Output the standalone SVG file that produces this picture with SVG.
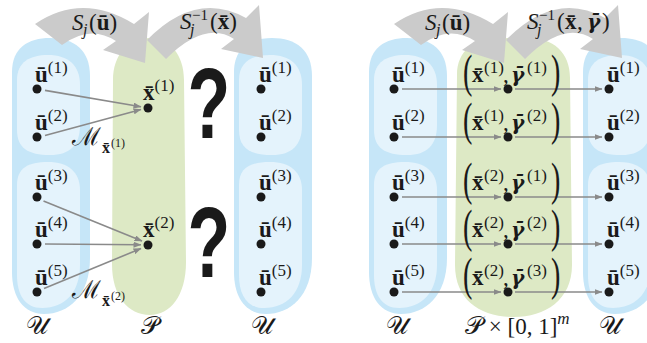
<svg xmlns="http://www.w3.org/2000/svg" width="647" height="343" viewBox="0 0 647 343">
<style>
.m{font-family:"Liberation Serif","DejaVu Serif",serif;font-size:23px;fill:#1a1a1a}
.b{font-weight:bold}
.i{font-style:italic}
.g{font-family:"DejaVu Serif",serif;font-weight:bold;font-style:italic;font-size:20px}
.sup{font-size:17px}
.sub{font-size:16px}
.sm{font-size:15px}
.cal{font-family:"DejaVu Serif","Noto Sans",serif;fill:#1a1a1a}
.outer{fill:#c6e6f8}
.inner{fill:#e4f3fc}
.green{fill:#dde9c5}
.big{fill:#cbcbcb}
.dot{fill:#1a1a1a}
.ln{stroke:#8a8a8a;stroke-width:1.6;fill:none;marker-end:url(#ah)}
.q{font-family:"Liberation Sans","DejaVu Sans",sans-serif;font-weight:bold;font-size:100px;fill:#1a1a1a}
.bp{font-family:"Liberation Serif","DejaVu Serif",serif;font-size:47px;fill:#1a1a1a}
</style>
<defs>
<marker id="ah" markerWidth="8" markerHeight="6" refX="7.5" refY="3" orient="auto" markerUnits="userSpaceOnUse"><path d="M0,0 L8,3 L0,6 z" fill="#8a8a8a"/></marker>
<g id="bcol">
<path class="outer" d="M12,72 C12,48 28,38 50,38 C74,38 90,50 90,76 L90,258 C90,296 68,314 44,314 C24,314 12,298 12,272 Z"/>
<path class="inner" d="M17,80 C17,62 30,55 48,55 C68,55 80,65 80,85 L80,125 C80,145 70,155 50,155 C28,155 17,148 17,130 Z"/>
<path class="inner" d="M17,185 C17,168 28,162 48,162 C68,162 80,172 80,190 L80,265 C80,292 65,308 42,308 C25,308 17,295 17,275 Z"/>
</g>
<path id="arr1" d="M35,24 Q82,-8 134,24 L149,12 L145,63 L103,50 L116,41 Q90,24 62,45 Z"/>
<path id="arr2" d="M147,40 Q196,-10 246,18 L259,5 L263,58 L221,49 L234,39 Q205,20 166,59 Z"/>
</defs>

<!-- columns -->
<g id="col-U-left"><use href="#bcol"/></g>
<g id="col-P"><path class="green" d="M113,80 C113,55 128,38 149,38 C170,38 184,55 184,80 L186,262 C186,296 170,315 150,315 C128,315 112,296 112,264 Z"/></g>
<g id="col-U-mid"><use href="#bcol" transform="translate(222,0)"/></g>
<g id="col-U-r1"><use href="#bcol" transform="translate(357,0)"/></g>
<g id="col-PxI"><path class="green" d="M457,75 C457,50 475,38 500,38 L528,38 C553,38 570,52 570,78 L572,265 C572,300 545,317 514,317 C480,317 455,300 455,265 Z"/></g>
<g id="col-U-r2"><use href="#bcol" transform="translate(571,0)"/></g>

<!-- big arrows -->
<g id="maps">
<use href="#arr1" class="big"/>
<use href="#arr2" class="big"/>
<use href="#arr1" class="big" transform="translate(359,0)"/>
<use href="#arr2" class="big" transform="translate(359,0)"/>
<text class="m i" x="72" y="30">S</text>
<text class="m sub i" x="83" y="35">j</text>
<text class="m" x="89" y="30">(<tspan class="b">ū</tspan>)</text>
<text class="m i" x="180" y="29">S</text>
<text class="m sub i" x="190" y="35">j</text>
<text class="m sm" x="192" y="20">−1</text>
<text class="m" x="210" y="29">(<tspan class="b">x̄</tspan>)</text>
<text class="m i" x="425" y="30">S</text>
<text class="m sub i" x="436" y="35">j</text>
<text class="m" x="442" y="30">(<tspan class="b">ū</tspan>)</text>
<text class="m i" x="527" y="29">S</text>
<text class="m sub i" x="537" y="35">j</text>
<text class="m sm" x="539" y="20">−1</text>
<text class="m" y="29"><tspan x="557">(</tspan><tspan class="b" x="565">x̄</tspan><tspan x="577">,</tspan><tspan class="g" x="587">γ̄</tspan><tspan x="602">)</tspan></text>
</g>

<!-- connectors -->
<g id="connectors">
<line class="ln" x1="45" y1="90.4" x2="141" y2="106.8"/>
<line class="ln" x1="45" y1="135.6" x2="141" y2="109.4"/>
<line class="ln" x1="43.5" y1="201" x2="142" y2="241"/>
<line class="ln" x1="45" y1="244" x2="141" y2="244.8"/>
<line class="ln" x1="44" y1="288.5" x2="141" y2="248.5"/>
<line class="ln" x1="402" y1="89" x2="501" y2="89"/>
<line class="ln" x1="515" y1="89" x2="602" y2="89"/>
<line class="ln" x1="402" y1="137" x2="501" y2="137"/>
<line class="ln" x1="515" y1="137" x2="602" y2="137"/>
<line class="ln" x1="402" y1="197" x2="501" y2="197"/>
<line class="ln" x1="515" y1="197" x2="602" y2="197"/>
<line class="ln" x1="402" y1="244" x2="501" y2="244"/>
<line class="ln" x1="515" y1="244" x2="602" y2="244"/>
<line class="ln" x1="402" y1="292" x2="501" y2="292"/>
<line class="ln" x1="515" y1="292" x2="602" y2="292"/>
</g>

<!-- left panel nodes -->
<g id="u1L"><circle class="dot" cx="37" cy="89" r="4.5"/><text class="m" x="35" y="82"><tspan class="b">ū</tspan><tspan class="sup" dy="-9">(1)</tspan></text></g>
<g id="u2L"><circle class="dot" cx="37" cy="137" r="4.5"/><text class="m" x="35" y="130"><tspan class="b">ū</tspan><tspan class="sup" dy="-9">(2)</tspan></text></g>
<g id="u3L"><circle class="dot" cx="37" cy="197" r="4.5"/><text class="m" x="35" y="190"><tspan class="b">ū</tspan><tspan class="sup" dy="-9">(3)</tspan></text></g>
<g id="u4L"><circle class="dot" cx="37" cy="244" r="4.5"/><text class="m" x="35" y="237"><tspan class="b">ū</tspan><tspan class="sup" dy="-9">(4)</tspan></text></g>
<g id="u5L"><circle class="dot" cx="37" cy="292" r="4.5"/><text class="m" x="35" y="285"><tspan class="b">ū</tspan><tspan class="sup" dy="-9">(5)</tspan></text></g>
<g id="x1"><circle class="dot" cx="148" cy="108" r="4.5"/><text class="m" x="143" y="100"><tspan class="b">x̄</tspan><tspan class="sup" dy="-9">(1)</tspan></text></g>
<g id="x2"><circle class="dot" cx="148" cy="245" r="4.5"/><text class="m" x="143" y="237"><tspan class="b">x̄</tspan><tspan class="sup" dy="-9">(2)</tspan></text></g>
<g id="M1"><text class="cal" font-size="25" x="72" y="145">ℳ</text><text class="m b" style="font-size:16px" x="102" y="153">x̄</text><text class="m" style="font-size:12px" x="111" y="147">(1)</text></g>
<g id="M2"><text class="cal" font-size="25" x="72" y="298">ℳ</text><text class="m b" style="font-size:16px" x="102" y="306">x̄</text><text class="m" style="font-size:12px" x="111" y="300">(2)</text></g>
<g id="v1M"><circle class="dot" cx="261" cy="89" r="4.5"/><text class="m" x="259" y="82"><tspan class="b">ū</tspan><tspan class="sup" dy="-9">(1)</tspan></text></g>
<g id="v2M"><circle class="dot" cx="261" cy="137" r="4.5"/><text class="m" x="259" y="130"><tspan class="b">ū</tspan><tspan class="sup" dy="-9">(2)</tspan></text></g>
<g id="v3M"><circle class="dot" cx="261" cy="197" r="4.5"/><text class="m" x="259" y="190"><tspan class="b">ū</tspan><tspan class="sup" dy="-9">(3)</tspan></text></g>
<g id="v4M"><circle class="dot" cx="261" cy="244" r="4.5"/><text class="m" x="259" y="237"><tspan class="b">ū</tspan><tspan class="sup" dy="-9">(4)</tspan></text></g>
<g id="v5M"><circle class="dot" cx="261" cy="292" r="4.5"/><text class="m" x="259" y="285"><tspan class="b">ū</tspan><tspan class="sup" dy="-9">(5)</tspan></text></g>
<g id="q1"><text class="q" text-anchor="middle" transform="translate(209,138) scale(0.7,1)">?</text></g>
<g id="q2"><text class="q" text-anchor="middle" transform="translate(209,277) scale(0.7,1)">?</text></g>

<!-- right panel nodes -->
<g id="u1R"><circle class="dot" cx="394" cy="89" r="4.5"/><text class="m" x="392" y="82"><tspan class="b">ū</tspan><tspan class="sup" dy="-9">(1)</tspan></text></g>
<g id="u2R"><circle class="dot" cx="394" cy="137" r="4.5"/><text class="m" x="392" y="130"><tspan class="b">ū</tspan><tspan class="sup" dy="-9">(2)</tspan></text></g>
<g id="u3R"><circle class="dot" cx="394" cy="197" r="4.5"/><text class="m" x="392" y="190"><tspan class="b">ū</tspan><tspan class="sup" dy="-9">(3)</tspan></text></g>
<g id="u4R"><circle class="dot" cx="394" cy="244" r="4.5"/><text class="m" x="392" y="237"><tspan class="b">ū</tspan><tspan class="sup" dy="-9">(4)</tspan></text></g>
<g id="u5R"><circle class="dot" cx="394" cy="292" r="4.5"/><text class="m" x="392" y="285"><tspan class="b">ū</tspan><tspan class="sup" dy="-9">(5)</tspan></text></g>

<g id="p1"><circle class="dot" cx="508" cy="89" r="4.5"/><text class="bp" transform="translate(463,87) scale(0.6,1)">(</text><text class="m"><tspan class="b" x="472" y="82">x̄</tspan><tspan class="sup" x="484" y="73">(1)</tspan><tspan x="503" y="82">,</tspan><tspan class="g" x="511" y="82">γ̄</tspan><tspan class="sup" x="527" y="73">(1)</tspan></text><text class="bp" transform="translate(551,87) scale(0.6,1)">)</text></g>
<g id="p2"><circle class="dot" cx="508" cy="137" r="4.5"/><text class="bp" transform="translate(463,135) scale(0.6,1)">(</text><text class="m"><tspan class="b" x="472" y="130">x̄</tspan><tspan class="sup" x="484" y="121">(1)</tspan><tspan x="503" y="130">,</tspan><tspan class="g" x="511" y="130">γ̄</tspan><tspan class="sup" x="527" y="121">(2)</tspan></text><text class="bp" transform="translate(551,135) scale(0.6,1)">)</text></g>
<g id="p3"><circle class="dot" cx="508" cy="197" r="4.5"/><text class="bp" transform="translate(463,195) scale(0.6,1)">(</text><text class="m"><tspan class="b" x="472" y="190">x̄</tspan><tspan class="sup" x="484" y="181">(2)</tspan><tspan x="503" y="190">,</tspan><tspan class="g" x="511" y="190">γ̄</tspan><tspan class="sup" x="527" y="181">(1)</tspan></text><text class="bp" transform="translate(551,195) scale(0.6,1)">)</text></g>
<g id="p4"><circle class="dot" cx="508" cy="244" r="4.5"/><text class="bp" transform="translate(463,242) scale(0.6,1)">(</text><text class="m"><tspan class="b" x="472" y="237">x̄</tspan><tspan class="sup" x="484" y="228">(2)</tspan><tspan x="503" y="237">,</tspan><tspan class="g" x="511" y="237">γ̄</tspan><tspan class="sup" x="527" y="228">(2)</tspan></text><text class="bp" transform="translate(551,242) scale(0.6,1)">)</text></g>
<g id="p5"><circle class="dot" cx="508" cy="292" r="4.5"/><text class="bp" transform="translate(463,290) scale(0.6,1)">(</text><text class="m"><tspan class="b" x="472" y="285">x̄</tspan><tspan class="sup" x="484" y="276">(2)</tspan><tspan x="503" y="285">,</tspan><tspan class="g" x="511" y="285">γ̄</tspan><tspan class="sup" x="527" y="276">(3)</tspan></text><text class="bp" transform="translate(551,290) scale(0.6,1)">)</text></g>

<g id="w1R"><circle class="dot" cx="609" cy="89" r="4.5"/><text class="m" x="607" y="82"><tspan class="b">ū</tspan><tspan class="sup" dy="-9">(1)</tspan></text></g>
<g id="w2R"><circle class="dot" cx="609" cy="137" r="4.5"/><text class="m" x="607" y="130"><tspan class="b">ū</tspan><tspan class="sup" dy="-9">(2)</tspan></text></g>
<g id="w3R"><circle class="dot" cx="609" cy="197" r="4.5"/><text class="m" x="607" y="190"><tspan class="b">ū</tspan><tspan class="sup" dy="-9">(3)</tspan></text></g>
<g id="w4R"><circle class="dot" cx="609" cy="244" r="4.5"/><text class="m" x="607" y="237"><tspan class="b">ū</tspan><tspan class="sup" dy="-9">(4)</tspan></text></g>
<g id="w5R"><circle class="dot" cx="609" cy="292" r="4.5"/><text class="m" x="607" y="285"><tspan class="b">ū</tspan><tspan class="sup" dy="-9">(5)</tspan></text></g>

<!-- set labels -->
<g id="labels">
<text class="cal" font-size="25" x="26" y="334">𝒰</text>
<text class="cal" font-size="25" x="141" y="334">𝒫</text>
<text class="cal" font-size="25" x="251" y="334">𝒰</text>
<text class="cal" font-size="25" x="386" y="334">𝒰</text>
<text class="m" x="465" y="334"><tspan class="cal" style="font-size:25px">𝒫</tspan> × [0, 1]<tspan class="sup i" dy="-10">m</tspan></text>
<text class="cal" font-size="25" x="599" y="334">𝒰</text>
</g>
</svg>
